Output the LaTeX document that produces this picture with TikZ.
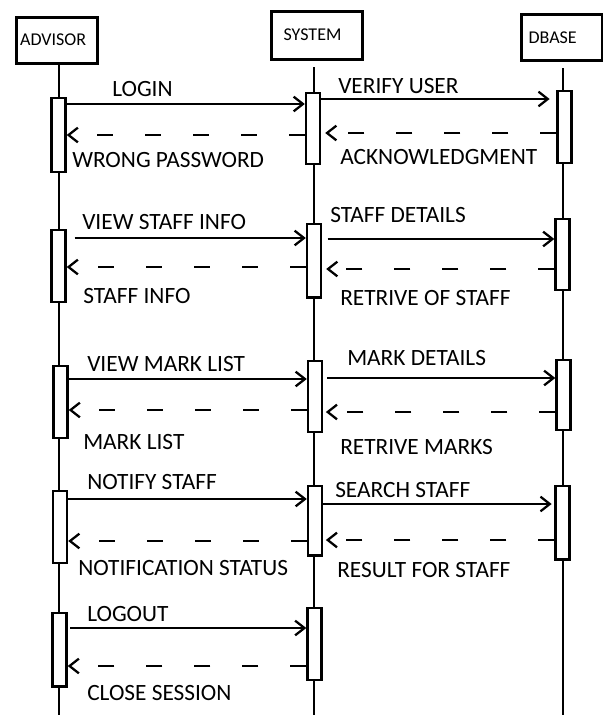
\documentclass[tikz,border=0pt]{standalone}
\usepackage{fontspec}
\setmainfont{Carlito}
\usepackage{tikz}
\usetikzlibrary{arrows.meta}

\tikzset{
  head/.style={draw, line width=2.4pt, align=left, inner ysep=0pt, anchor=north west, font=\fontsize{13.5}{15}\selectfont},
  life/.style={line width=1.7pt},
  act/.style={draw, fill=white, line width=1.8pt, minimum width=10.5pt, inner sep=0pt, anchor=north},
  msg/.style={line width=1.7pt, -{Straight Barb[length=7pt,width=11pt,line width=1.7pt]}},
  ret/.style={msg, dash pattern=on 12pt off 24pt},
  lbl/.style={anchor=west, inner sep=0pt, font=\fontsize{17.5}{20}\selectfont},
}

\begin{document}
\begin{tikzpicture}[x=0.75pt,y=0.75pt,yscale=-1,xscale=1]
    \useasboundingbox (0,0) rectangle (603,715);

    % header boxes
    \node[head, text width=54.75pt, inner xsep=3pt, minimum height=34.5pt] (hAdv) at (14.5,15.5) {ADVISOR};
    \node[head, text width=50pt, inner xsep=9.4pt, minimum height=36pt] (hSys) at (269.5,9.5) {SYSTEM};
    \node[head, text width=49.8pt, inner xsep=5.6pt, minimum height=35pt] (hDb) at (519.5,12.5) {DBASE};

    % lifelines
    \coordinate (endAdv) at (59,715);
    \coordinate (endSys) at (314,715);
    \coordinate (endDb) at (563,715);
    \draw[life] (hAdv.south -| endAdv) -- (endAdv);
    \draw[life] (314,67) -- (endSys);
    \draw[life] (563,68) -- (endDb);

    % activations
    \node[act, minimum height=55.5pt] (aA1) at (58.5,97) {};
    \node[act, minimum height=54pt] (aA2) at (58.5,229) {};
    \node[act, minimum height=54pt] (aA3) at (60.5,365) {};
    \node[act, minimum height=54pt] (aA4) at (60,490) {};
    \node[act, minimum height=55pt] (aA5) at (59.5,612) {};
    \node[act, minimum height=53pt] (aS1) at (313,92) {};
    \node[act, minimum height=55pt] (aS2) at (314,223) {};
    \node[act, minimum height=53pt] (aS3) at (315,360) {};
    \node[act, minimum height=52pt] (aS4) at (315,485) {};
    \node[act, minimum height=54pt] (aS5) at (314.5,607) {};
    \node[act, minimum height=54pt] (aD1) at (564.5,90) {};
    \node[act, minimum height=53pt] (aD2) at (562.5,218) {};
    \node[act, minimum height=52.5pt] (aD3) at (563.5,359) {};
    \node[act, minimum height=55pt] (aD4) at (562.5,485) {};

    % messages
    \draw[msg] (aA1.east |- 0,104) -- (aS1.west |- 0,104);
    \draw[msg, shorten >=5pt] (aS1.east |- 0,99) -- (aD1.west |- 0,99);
    \draw[ret] (aS1.west |- 0,135) -- (aA1.east |- 0,135);
    \draw[ret, shorten >=3pt] (aD1.west |- 0,133) -- (aS1.east |- 0,133);

    \draw[msg, shorten <=6pt] (aA2.east |- 0,238) -- (aS2.west |- 0,238);
    \draw[msg, shorten <=4pt] (aS2.east |- 0,239) -- (aD2.west |- 0,239);
    \draw[ret] (aS2.west |- 0,267) -- (aA2.east |- 0,267);
    \draw[ret, shorten >=3pt] (aD2.west |- 0,269) -- (aS2.east |- 0,269);

    \draw[msg] (aA3.east |- 0,379) -- (aS3.west |- 0,379);
    \draw[msg, shorten <=3pt] (aS3.east |- 0,378) -- (aD3.west |- 0,378);
    \draw[ret] (aS3.west |- 0,410) -- (aA3.east |- 0,410);
    \draw[ret, shorten >=2pt] (aD3.west |- 0,412) -- (aS3.east |- 0,412);

    \draw[msg] (aA4.east |- 0,499) -- (aS4.west |- 0,499);
    \draw[msg, shorten >=2pt] (aS4.east |- 0,504) -- (aD4.west |- 0,504);
    \draw[ret] (aS4.west |- 0,541) -- (aA4.east |- 0,541);
    \draw[ret, shorten >=2pt] (aD4.west |- 0,540) -- (aS4.east |- 0,540);

    \draw[msg, shorten <=2pt] (aA5.east |- 0,628) -- (aS5.west |- 0,628);
    \draw[ret] (aS5.west |- 0,666) -- (aA5.east |- 0,666);

    % labels
    \node[lbl] (tLogin) at (112,89) {LOGIN};
    \node[lbl] (tVerify) at (338,86) {VERIFY USER};
    \node[lbl] (tWrong) at (72,160) {WRONG PASSWORD};
    \node[lbl] (tAck) at (340,157) {ACKNOWLEDGMENT};
    \node[lbl] (tViewStaff) at (82,222) {VIEW STAFF INFO};
    \node[lbl] (tStaffDet) at (330,215) {STAFF DETAILS};
    \node[lbl] (tStaffInfo) at (83,296) {STAFF INFO};
    \node[lbl] (tRetStaff) at (340,298) {RETRIVE OF STAFF};
    \node[lbl] (tViewMark) at (87,364) {VIEW MARK LIST};
    \node[lbl] (tMarkDet) at (347,358) {MARK DETAILS};
    \node[lbl] (tMarkList) at (83,442) {MARK LIST};
    \node[lbl] (tRetMarks) at (340,447) {RETRIVE MARKS};
    \node[lbl] (tNotify) at (87,482) {NOTIFY STAFF};
    \node[lbl] (tSearch) at (335,490) {SEARCH STAFF};
    \node[lbl] (tNotStat) at (78,568) {NOTIFICATION STATUS};
    \node[lbl] (tResult) at (337,570) {RESULT FOR STAFF};
    \node[lbl] (tLogout) at (87,614) {LOGOUT};
    \node[lbl] (tClose) at (87,693) {CLOSE SESSION};
\end{tikzpicture}
\end{document}
